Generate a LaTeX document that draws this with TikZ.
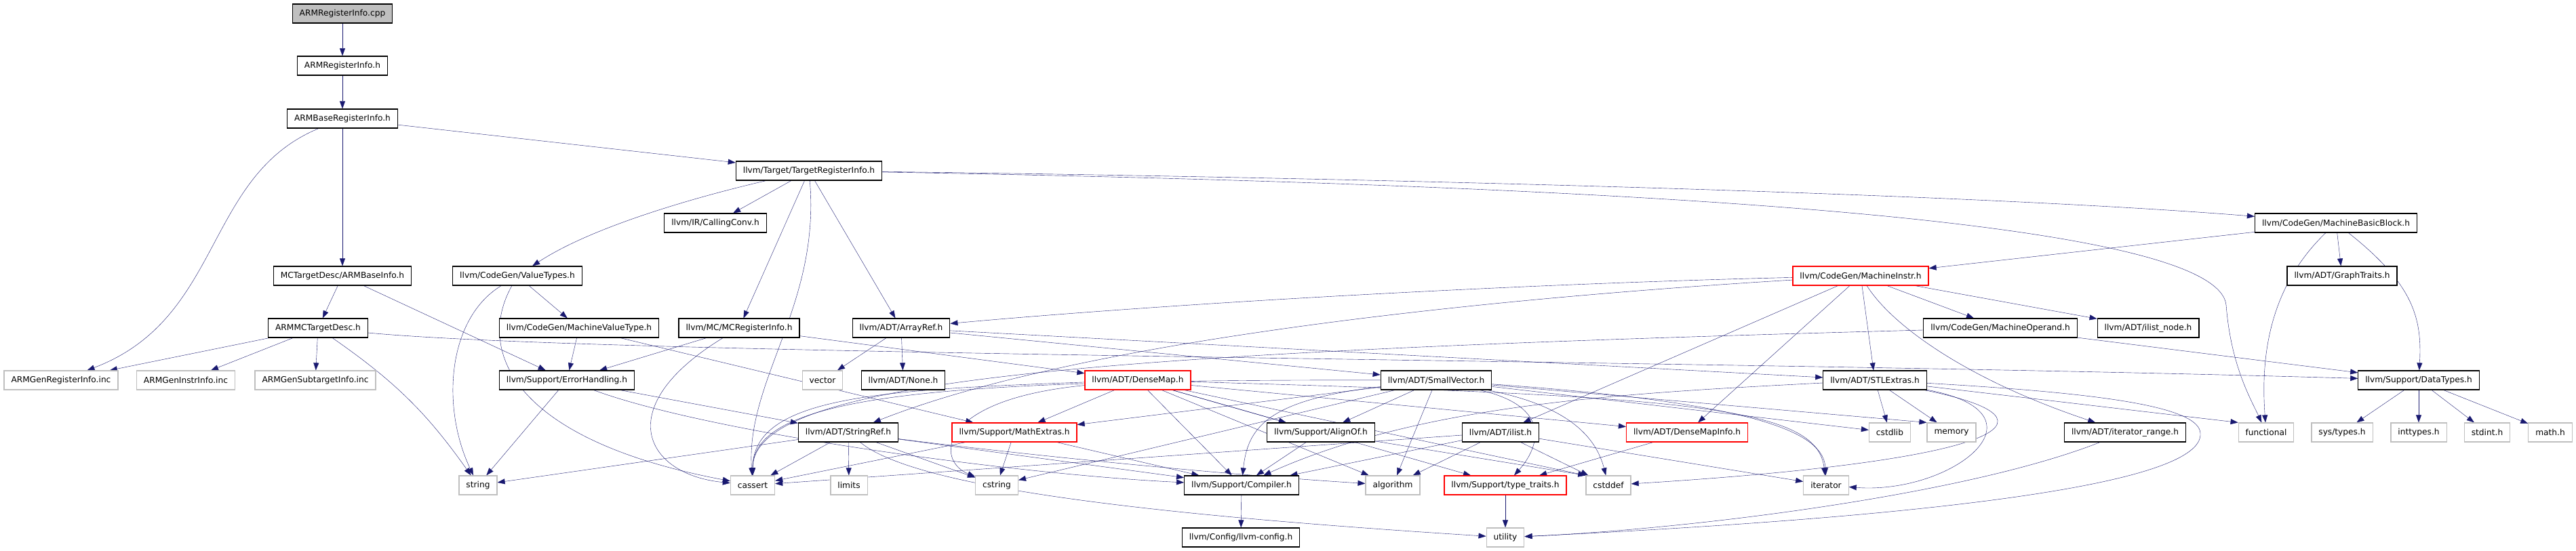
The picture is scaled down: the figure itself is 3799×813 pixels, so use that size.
\documentclass[tikz,border=0pt]{standalone}
\usepackage{fontspec}
\usepackage{tikz}
\usetikzlibrary{arrows.meta}
\newfontfamily\dxfont{DejaVu Sans}
\definecolor{link}{HTML}{191970}
\definecolor{sysgray}{HTML}{BFBFBF}
\pgfdeclarelayer{edges}
\pgfsetlayers{edges,main}

\begin{document}
\begin{tikzpicture}[->,>={Triangle[length=11pt,width=8pt]},x=1pt,y=1pt,
                    line width=1.6pt]
  \tikzstyle{every edge}=[draw=link]
  \tikzstyle{dep}=[draw=link]
  \tikzstyle{file}=[rectangle,draw=black,fill=white,line width=1.2pt,
                    font=\dxfont\fontsize{12.2}{14}\selectfont,
                    inner xsep=10.5pt,inner ysep=0pt,minimum height=28pt]
  \tikzstyle{sysfile}=[file,draw=sysgray]
  \tikzstyle{redfile}=[file,draw=red]
  \tikzstyle{rootfile}=[file,fill=sysgray]

  \useasboundingbox (0,0) rectangle (3799,-813);

  % rank 0 - 4
  \node[rootfile] (cpp)  at (505,-20)   {ARMRegisterInfo.cpp};
  \node[file] (arh)      at (505,-97)   {ARMRegisterInfo.h};
  \node[file] (abr)      at (505,-175)  {ARMBaseRegisterInfo.h};
  \node[file] (tri)      at (1193,-252) {llvm/Target/TargetRegisterInfo.h};
  \node[file] (cc)       at (1055,-329) {llvm/IR/CallingConv.h};
  \node[file] (mbb)      at (3445,-329) {llvm/CodeGen/MachineBasicBlock.h};

  % rank 5 - 6
  \node[file] (abi)      at (505,-407)  {MCTargetDesc/ARMBaseInfo.h};
  \node[file] (vt)       at (763,-407)  {llvm/CodeGen/ValueTypes.h};
  \node[redfile] (mi)    at (2744,-407) {llvm/CodeGen/MachineInstr.h};
  \node[file] (gt)       at (3454,-407) {llvm/ADT/GraphTraits.h};
  \node[file] (mcd)      at (469,-484)  {ARMMCTargetDesc.h};
  \node[file] (mvt)      at (854,-484)  {llvm/CodeGen/MachineValueType.h};
  \node[file] (mcri)     at (1090,-484) {llvm/MC/MCRegisterInfo.h};
  \node[file] (ar)       at (1329,-484) {llvm/ADT/ArrayRef.h};
  \node[file] (mo)       at (2950,-484) {llvm/CodeGen/MachineOperand.h};
  \node[file] (iln)      at (3168,-484) {llvm/ADT/ilist\_node.h};

  % rank 7
  \node[sysfile] (gri)   at (90,-561)   {ARMGenRegisterInfo.inc};
  \node[sysfile] (gii)   at (274,-561)  {ARMGenInstrInfo.inc};
  \node[sysfile] (gsi)   at (465,-561)  {ARMGenSubtargetInfo.inc};
  \node[file] (eh)       at (836,-561)  {llvm/Support/ErrorHandling.h};
  \node[sysfile] (vec)   at (1213,-561) {vector};
  \node[file] (none)     at (1332,-561) {llvm/ADT/None.h};
  \node[redfile] (dm)    at (1678,-561) {llvm/ADT/DenseMap.h};
  \node[file] (sv)       at (2118,-561) {llvm/ADT/SmallVector.h};
  \node[file] (stl)      at (2765,-561) {llvm/ADT/STLExtras.h};
  \node[file] (dt)       at (3567,-561) {llvm/Support/DataTypes.h};

  % rank 8
  \node[file] (sr)       at (1251,-638) {llvm/ADT/StringRef.h};
  \node[redfile] (me)    at (1496,-638) {llvm/Support/MathExtras.h};
  \node[file] (ao)       at (1948,-638) {llvm/Support/AlignOf.h};
  \node[file] (il)       at (2213,-638) {llvm/ADT/ilist.h};
  \node[redfile] (dmi)   at (2488,-638) {llvm/ADT/DenseMapInfo.h};
  \node[sysfile] (cstdlib) at (2787,-638) {cstdlib};
  \node[sysfile] (memory)  at (2878,-638) {memory};
  \node[file] (itr)      at (3134,-638) {llvm/ADT/iterator\_range.h};
  \node[sysfile] (functional) at (3342,-638) {functional};
  \node[sysfile] (systypes)   at (3454,-638) {sys/types.h};
  \node[sysfile] (inttypes)   at (3567,-638) {inttypes.h};
  \node[sysfile] (stdint)     at (3668,-638) {stdint.h};
  \node[sysfile] (math)       at (3761,-638) {math.h};

  % rank 9 - 10
  \node[sysfile] (string)    at (705,-716)  {string};
  \node[sysfile] (cassert)   at (1110,-716) {cassert};
  \node[sysfile] (limits)    at (1252,-716) {limits};
  \node[sysfile] (cstring)   at (1470,-716) {cstring};
  \node[file] (comp)         at (1831,-716) {llvm/Support/Compiler.h};
  \node[sysfile] (algorithm) at (2054,-716) {algorithm};
  \node[redfile] (tt)        at (2220,-716) {llvm/Support/type\_traits.h};
  \node[sysfile] (cstddef)   at (2372,-716) {cstddef};
  \node[sysfile] (iterator)  at (2693,-716) {iterator};
  \node[file] (cfg)          at (1830,-793) {llvm/Config/llvm-config.h};
  \node[sysfile] (utility)   at (2220,-793) {utility};

  \begin{pgfonlayer}{edges}
  \path
(cpp) edge (arh)
(arh) edge (abr)
(abr) edge (abi)
(abr) edge (tri)
(tri) edge (cc)
(tri) edge (mcri)
(tri) edge (ar)
(abi) edge (mcd)
(abi) edge (eh)
(mcd) edge (gri)
(mcd) edge (gii)
(mcd) edge (gsi)
(mcd) edge [bend left=10] (string)
(vt) edge (mvt)
(mvt) edge (eh)
(mvt) edge (me)
(mcri) edge (eh)
(mcri) edge (dm)
(ar) edge (vec)
(ar) edge (none)
(ar) edge (sv)
(ar) edge (stl)
(eh) edge (string)
(eh) edge (sr)
(sr) edge (string)
(sr) edge (cassert)
(sr) edge (limits)
(sr) edge (cstring)
(sr) edge (comp)
(me) edge (cassert)
(me) edge (cstring)
(me) edge (comp)
(dm) edge (me)
(dm) edge (ao)
(dm) edge (comp)
(dm) edge (tt)
(dm) edge (dmi)
(dm) edge (algorithm)
(dm) edge (cstddef.north west)
(sv) edge (ao)
(sv) edge (me)
(sv) edge (algorithm)
(sv) edge (cstring)
(sv) edge (cstdlib)
(sv) edge (memory.north west)
(ao) edge (comp)
(ao) edge (cstddef.north west)
(il) edge (cassert)
(il) edge (comp)
(il) edge (algorithm)
(il) edge (cstddef)
(il) edge (iterator)
(dmi) edge (tt)
(mi) edge (il)
(mi) edge (dmi)
(mi) edge (stl)
(mi) edge (mo)
(mi) edge (iln)
(mbb) edge (mi)
(mbb) edge (gt)
(mo) edge (dt)
(stl) edge (cstdlib)
(stl) edge (memory)
(stl) edge (functional.north west)
(dt) edge (systypes)
(dt) edge (inttypes)
(dt) edge (stdint)
(dt) edge (math)
(tt) edge (utility)
(comp) edge (cfg);

  % long curved ones
  \draw[dep] (abr) .. controls (300,-260) and (330,-470) .. (gri);
  \draw[dep] (tri) .. controls (1050,-285) and (880,-330) .. (vt);
  \draw[dep] (tri) .. controls (2000,-262) and (2900,-285) .. (mbb);
  \draw[dep] (tri) .. controls (1210,-450) and (1100,-560) .. (cassert);
  \draw[dep] (tri) .. controls (2500,-275) and (3270,-330) .. (3283,-450)
                   .. controls (3290,-540) and (3320,-590) .. (functional);
  \draw[dep] (mcd) .. controls (900,-525) and (2500,-530) .. (dt);
  \draw[dep] (vt) .. controls (660,-470) and (650,-600) .. (string);
  \draw[dep] (vt) .. controls (700,-520) and (760,-650) .. (cassert);
  \draw[dep] (mcri) .. controls (900,-600) and (950,-700) .. (cassert);
  \draw[dep] (eh) .. controls (1050,-640) and (1500,-700) .. (comp);
  \draw[dep] (sr) .. controls (1350,-720) and (1700,-760) .. (utility);
  \draw[dep] (sr) .. controls (1500,-670) and (1800,-700) .. (algorithm);
  \draw[dep] (dm) .. controls (1380,-590) and (1380,-680) .. (cstring);
  \draw[dep] (dm) .. controls (1300,-575) and (1110,-585) .. (cassert);
  \draw[dep] (dm) .. controls (2500,-585) and (2680,-600) .. (iterator);
  \draw[dep] (sv) .. controls (1870,-590) and (1840,-630) .. (comp);
  \draw[dep] (sv) .. controls (1400,-560) and (1110,-580) .. (cassert);
  \draw[dep] (sv) .. controls (2290,-600) and (2270,-660) .. (tt);
  \draw[dep] (sv) .. controls (2320,-600) and (2355,-650) .. (cstddef);
  \draw[dep] (sv) .. controls (2600,-595) and (2690,-640) .. (iterator);
  \draw[dep] (mi) .. controls (2200,-420) and (1700,-450) .. (ar);
  \draw[dep] (mi) .. controls (2200,-440) and (1600,-500) .. (sr);
  \draw[dep] (mi) .. controls (2790,-480) and (2900,-560) .. (itr);
  \draw[dep] (mo) .. controls (1600,-520) and (1110,-560) .. (cassert);
  \draw[dep] (mbb) .. controls (3560,-420) and (3572,-470) .. (dt);
  \draw[dep] (mbb) .. controls (3340,-430) and (3335,-540) .. (functional);
  \draw[dep] (stl) .. controls (2400,-580) and (2100,-595) .. (comp);
  \draw[dep] (stl) .. controls (3030,-610) and (2880,-730) .. (iterator);
  \draw[dep] (stl) .. controls (3060,-620) and (2950,-680) .. (cstddef);
  \draw[dep] (stl) .. controls (3100,-580) and (3245,-600) .. (3245,-640)
                   .. controls (3248,-710) and (2900,-760) .. (utility);
  \draw[dep] (itr) .. controls (2900,-730) and (2500,-780) .. (utility);
  \end{pgfonlayer}

\end{tikzpicture}
\end{document}
